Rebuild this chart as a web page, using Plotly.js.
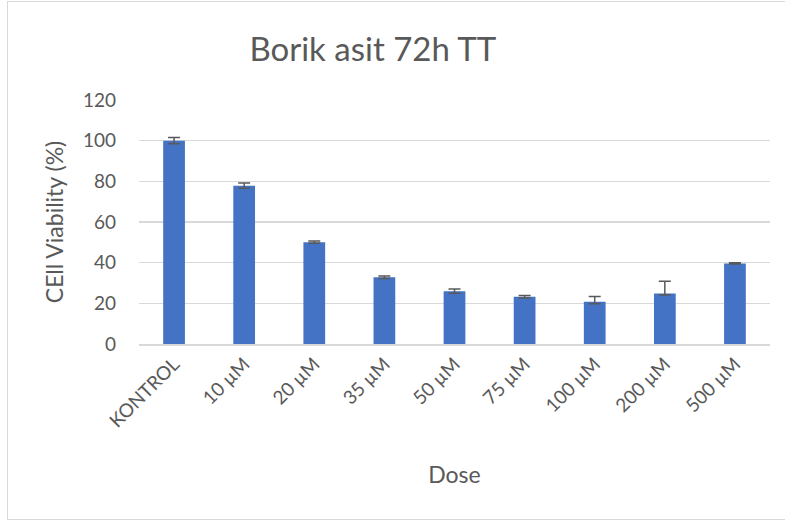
<!DOCTYPE html>
<html><head><meta charset="utf-8">
<script src="https://cdn.plot.ly/plotly-3.0.1.min.js"></script>
<style>
html,body{margin:0;padding:0;background:#fff;overflow:hidden;width:785px;height:522px;}
#frame{position:absolute;left:7px;top:1px;width:820px;height:519px;border:1px solid #d9d9d9;box-sizing:border-box;}
#chart{position:absolute;left:0;top:0;width:785px;height:522px;}
</style></head>
<body>
<div id="frame"></div>
<div id="chart"></div>
<script>
const categories = ["KONTROL","10 µM","20 µM","35 µM","50 µM","75 µM","100 µM","200 µM","500 µM"];
const viability = [100, 77.8, 50.1, 32.8, 26.0, 23.2, 20.8, 24.8, 39.6];
const errPlus  = [1.5, 1.4, 0.6, 0.6, 1.0, 0.6, 2.5, 6.1, 0.3];
const errMinus = [1.5, 1.2, 0.6, 0.6, 1.0, 0.6, 1.0, 0.7, 0.3];

const font = "Lato, 'Open Sans', sans-serif";
Plotly.newPlot('chart', [{
  type:'bar', x:categories, y:viability,
  marker:{color:'#4472C4'},
  error_y:{type:'data', array:errPlus, arrayminus:errMinus, symmetric:false,
           color:'#595959', thickness:1.5, width:6},
  width:0.31
}], {
  width:785, height:522,
  paper_bgcolor:'rgba(0,0,0,0)', plot_bgcolor:'rgba(0,0,0,0)',
  margin:{l:139, r:15, t:100, b:178},
  font:{family:font, color:'#595959', size:18},
  title:{text:'Borik asit 72h TT', font:{size:33, color:'#595959', family:font}, x:0.475, xanchor:'center', y:0.905, yanchor:'middle'},
  showlegend:false,
  xaxis:{tickangle:-45, showline:true, linecolor:'#d9d9d9', linewidth:1.5, ticks:'',
         tickfont:{size:19}, title:{text:'Dose', font:{size:23}, standoff:36}},
  yaxis:{range:[0,120], dtick:20, gridcolor:'#d9d9d9', gridwidth:1.5, zeroline:false,
         ticks:'', ticklabelstandoff:22, tickfont:{size:19},
         title:{text:'CEll Viability (%)', font:{size:23}, standoff:12}}
}, {displayModeBar:false, staticPlot:true});
</script>
</body></html>
